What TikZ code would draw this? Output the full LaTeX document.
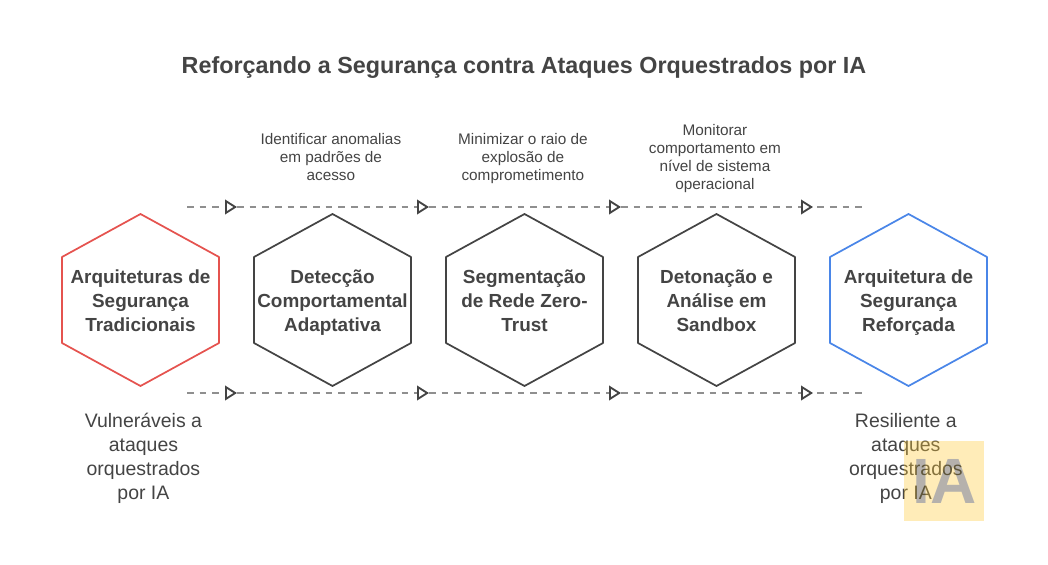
\documentclass[tikz,border=0pt]{standalone}
\usepackage{fontspec}
\setmainfont{Liberation Sans}
\usepackage{xcolor}
\usetikzlibrary{arrows.meta, positioning, calc}
\definecolor{inkdark}{HTML}{444444}
\definecolor{dashgray}{HTML}{8F8F8F}
\definecolor{hexred}{HTML}{E5534F}
\definecolor{hexblue}{HTML}{4A86E8}
\definecolor{logoyellow}{HTML}{FFC933}
\definecolor{logogray}{HTML}{B5C0F0}
\newcommand{\hexstrut}{\rule{0pt}{17.1pt}}
\tikzset{
  hexnode/.style={rectangle, minimum width=117.75pt, minimum height=129pt, inner sep=0pt, outer sep=0pt, align=center, text=inkdark, font=\fontsize{14.2}{18}\selectfont\bfseries,
    append after command={\pgfextra{\draw[draw=#1, line width=1.3pt, line join=round]
      (\tikzlastnode.north)
      -- ($(\tikzlastnode.north east)!.25!(\tikzlastnode.south east)$)
      -- ($(\tikzlastnode.north east)!.75!(\tikzlastnode.south east)$)
      -- (\tikzlastnode.south)
      -- ($(\tikzlastnode.north west)!.75!(\tikzlastnode.south west)$)
      -- ($(\tikzlastnode.north west)!.25!(\tikzlastnode.south west)$)
      -- cycle;}}},
  hexnode/.default=inkdark,
  note/.style={align=center, inner sep=0pt, outer sep=0pt, xshift=-1.2pt, text=inkdark, font=\fontsize{11.5}{13.5}\selectfont},
  outcome/.style={align=center, inner sep=0pt, outer sep=0pt, text=inkdark, font=\fontsize{14.6}{18}\selectfont},
  dasharrow/.style={line width=1pt, draw=dashgray, dash pattern=on 5pt off 4.5pt, -{Triangle[open, length=9pt, width=11pt, color=inkdark, line width=1.4pt]}},
  dashend/.style={line width=1pt, draw=dashgray, dash pattern=on 5pt off 4.5pt, dash phase=6.3pt}
}
\begin{document}
\begin{tikzpicture}[x=0.75pt, y=-0.75pt, node distance=12pt and 26.25pt]
\useasboundingbox (0,0) rectangle (1048,564);
% Title
\node[inner sep=0pt, text=inkdark, font=\fontsize{17.5}{22}\selectfont\bfseries] (title) at (524,68) {Reforçando a Segurança contra Ataques Orquestrados por IA};
% Hexagons
\node[hexnode=hexred] (trad) at (140.5,300) {\hexstrut Arquiteturas de\\Segurança\\Tradicionais\strut};
\node[hexnode, right=of trad] (detect) {\hexstrut Detecção\\Comportamental\\Adaptativa\strut};
\node[hexnode, right=of detect] (segment) {\hexstrut Segmentação\\de Rede Zero-\\Trust\strut};
\node[hexnode, right=of segment] (sandbox) {\hexstrut Detonação e\\Análise em\\Sandbox\strut};
\node[hexnode=hexblue, right=of sandbox] (hardened) {\hexstrut Arquitetura de\\Segurança\\Reforçada\strut};
% Notes above
\node[note, above=21pt of detect] (notedetect) {\strut Identificar anomalias\\em padrões de\\acesso\strut};
\node[note, above=21pt of segment] (notesegment) {\strut Minimizar o raio de\\explosão de\\comprometimento\strut};
\node[note, above=14.25pt of sandbox] (notesandbox) {\strut Monitorar\\comportamento em\\nível de sistema\\operacional\strut};
% Outcomes below
\node[outcome, below=18.75pt of trad, xshift=2.2pt] (weak) {\strut Vulneráveis a\\ataques\\orquestrados\\por IA\strut};
\node[outcome, below=18.75pt of hardened, xshift=-2pt] (strong) {\strut Resiliente a\\ataques\\orquestrados\\por IA\strut};
% Dashed rows
\foreach \row/\ypos in {top/207, bot/393} {
  \coordinate (\row0) at (187,\ypos);
  \coordinate (\row1) at (237,\ypos);
  \coordinate (\row2) at (429,\ypos);
  \coordinate (\row3) at (621,\ypos);
  \coordinate (\row4) at (813,\ypos);
  \coordinate (\row5) at (862,\ypos);
  \draw[dasharrow] (\row0) -- (\row1);
  \draw[dasharrow] (\row1) -- (\row2);
  \draw[dasharrow] (\row2) -- (\row3);
  \draw[dasharrow] (\row3) -- (\row4);
  \draw[dashend] (\row4) -- (\row5);
}
% Logo
\node[rectangle, minimum size=60pt, inner sep=0pt, fill=logoyellow, fill opacity=0.35] (logo) at (944,481) {};
\node[inner sep=0pt, text=logogray, blend mode=multiply, font=\fontsize{48}{48}\selectfont\bfseries] (logotext) at (944.5,481) {IA};
\end{tikzpicture}
\end{document}
